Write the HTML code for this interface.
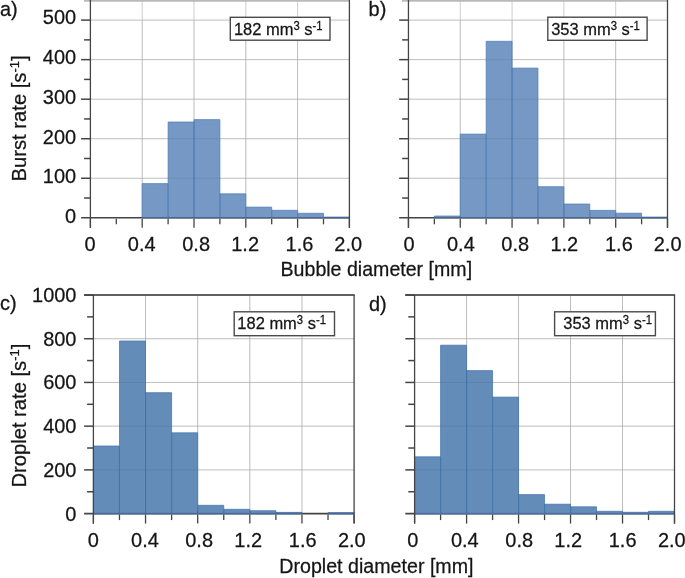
<!DOCTYPE html>
<html><head><meta charset="utf-8"><style>
html,body{margin:0;padding:0;background:#fff;}
svg{display:block;will-change:transform;font-family:"Liberation Sans",sans-serif;}
text{fill:#151515;stroke:#151515;stroke-width:0.25px;}
</style></head><body>
<svg width="685" height="578" viewBox="0 0 685 578">
<rect width="685" height="578" fill="#fff"/>
<line x1="142.20" y1="0.00" x2="142.20" y2="217.80" stroke="#cdcdcd" stroke-width="1" />
<line x1="194.00" y1="0.00" x2="194.00" y2="217.80" stroke="#cdcdcd" stroke-width="1" />
<line x1="245.80" y1="0.00" x2="245.80" y2="217.80" stroke="#cdcdcd" stroke-width="1" />
<line x1="297.60" y1="0.00" x2="297.60" y2="217.80" stroke="#cdcdcd" stroke-width="1" />
<line x1="90.40" y1="178.26" x2="349.40" y2="178.26" stroke="#cdcdcd" stroke-width="1" />
<line x1="90.40" y1="138.72" x2="349.40" y2="138.72" stroke="#cdcdcd" stroke-width="1" />
<line x1="90.40" y1="99.18" x2="349.40" y2="99.18" stroke="#cdcdcd" stroke-width="1" />
<line x1="90.40" y1="59.64" x2="349.40" y2="59.64" stroke="#cdcdcd" stroke-width="1" />
<line x1="90.40" y1="20.10" x2="349.40" y2="20.10" stroke="#cdcdcd" stroke-width="1" />
<line x1="81.10" y1="217.80" x2="349.40" y2="217.80" stroke="#444" stroke-width="1.6" />
<rect x="142.20" y="183.60" width="25.90" height="34.20" fill="#7698C4"/>
<rect x="168.10" y="122.00" width="25.90" height="95.80" fill="#7698C4"/>
<rect x="194.00" y="119.60" width="25.90" height="98.20" fill="#7698C4"/>
<rect x="219.90" y="193.80" width="25.90" height="24.00" fill="#7698C4"/>
<rect x="245.80" y="207.10" width="25.90" height="10.70" fill="#7698C4"/>
<rect x="271.70" y="210.30" width="25.90" height="7.50" fill="#7698C4"/>
<rect x="297.60" y="213.30" width="25.90" height="4.50" fill="#7698C4"/>
<rect x="323.50" y="217.00" width="25.90" height="0.80" fill="#7698C4"/>
<line x1="142.20" y1="20.10" x2="142.20" y2="217.80" stroke="#000" stroke-width="1" stroke-opacity="0.08"/>
<line x1="194.00" y1="20.10" x2="194.00" y2="217.80" stroke="#000" stroke-width="1" stroke-opacity="0.08"/>
<line x1="245.80" y1="20.10" x2="245.80" y2="217.80" stroke="#000" stroke-width="1" stroke-opacity="0.08"/>
<line x1="297.60" y1="20.10" x2="297.60" y2="217.80" stroke="#000" stroke-width="1" stroke-opacity="0.08"/>
<line x1="90.40" y1="178.26" x2="349.40" y2="178.26" stroke="#000" stroke-width="1" stroke-opacity="0.07"/>
<line x1="90.40" y1="138.72" x2="349.40" y2="138.72" stroke="#000" stroke-width="1" stroke-opacity="0.07"/>
<line x1="90.40" y1="99.18" x2="349.40" y2="99.18" stroke="#000" stroke-width="1" stroke-opacity="0.07"/>
<line x1="90.40" y1="59.64" x2="349.40" y2="59.64" stroke="#000" stroke-width="1" stroke-opacity="0.07"/>
<line x1="90.40" y1="20.10" x2="349.40" y2="20.10" stroke="#000" stroke-width="1" stroke-opacity="0.07"/>
<path d="M142.20,217.80 V183.60 H168.10 V217.80" fill="none" stroke="#4b7bb5" stroke-width="1" stroke-opacity="0.7"/>
<line x1="142.20" y1="217.80" x2="168.10" y2="217.80" stroke="rgba(40,65,115,0.45)" stroke-width="1.6" />
<path d="M168.10,217.80 V122.00 H194.00 V217.80" fill="none" stroke="#4b7bb5" stroke-width="1" stroke-opacity="0.7"/>
<line x1="168.10" y1="217.80" x2="194.00" y2="217.80" stroke="rgba(40,65,115,0.45)" stroke-width="1.6" />
<path d="M194.00,217.80 V119.60 H219.90 V217.80" fill="none" stroke="#4b7bb5" stroke-width="1" stroke-opacity="0.7"/>
<line x1="194.00" y1="217.80" x2="219.90" y2="217.80" stroke="rgba(40,65,115,0.45)" stroke-width="1.6" />
<path d="M219.90,217.80 V193.80 H245.80 V217.80" fill="none" stroke="#4b7bb5" stroke-width="1" stroke-opacity="0.7"/>
<line x1="219.90" y1="217.80" x2="245.80" y2="217.80" stroke="rgba(40,65,115,0.45)" stroke-width="1.6" />
<path d="M245.80,217.80 V207.10 H271.70 V217.80" fill="none" stroke="#4b7bb5" stroke-width="1" stroke-opacity="0.7"/>
<line x1="245.80" y1="217.80" x2="271.70" y2="217.80" stroke="rgba(40,65,115,0.45)" stroke-width="1.6" />
<path d="M271.70,217.80 V210.30 H297.60 V217.80" fill="none" stroke="#4b7bb5" stroke-width="1" stroke-opacity="0.7"/>
<line x1="271.70" y1="217.80" x2="297.60" y2="217.80" stroke="rgba(40,65,115,0.45)" stroke-width="1.6" />
<path d="M297.60,217.80 V213.30 H323.50 V217.80" fill="none" stroke="#4b7bb5" stroke-width="1" stroke-opacity="0.7"/>
<line x1="297.60" y1="217.80" x2="323.50" y2="217.80" stroke="rgba(40,65,115,0.45)" stroke-width="1.6" />
<path d="M323.50,217.80 V217.00 H349.40 V217.80" fill="none" stroke="#4b7bb5" stroke-width="1" stroke-opacity="0.7"/>
<line x1="323.50" y1="217.80" x2="349.40" y2="217.80" stroke="rgba(40,65,115,0.45)" stroke-width="1.6" />
<rect x="83.90" y="0" width="266.00" height="1.7" fill="#b8b8b8"/>
<line x1="90.40" y1="0.00" x2="90.40" y2="227.80" stroke="#444" stroke-width="1.3" />
<line x1="349.40" y1="0.00" x2="349.40" y2="227.80" stroke="#444" stroke-width="1.3" />
<line x1="81.10" y1="178.26" x2="90.40" y2="178.26" stroke="#444" stroke-width="1.5" />
<line x1="81.10" y1="138.72" x2="90.40" y2="138.72" stroke="#444" stroke-width="1.5" />
<line x1="81.10" y1="99.18" x2="90.40" y2="99.18" stroke="#444" stroke-width="1.5" />
<line x1="81.10" y1="59.64" x2="90.40" y2="59.64" stroke="#444" stroke-width="1.5" />
<line x1="81.10" y1="20.10" x2="90.40" y2="20.10" stroke="#444" stroke-width="1.5" />
<line x1="84.10" y1="198.03" x2="90.40" y2="198.03" stroke="#444" stroke-width="1.5" />
<line x1="84.10" y1="158.49" x2="90.40" y2="158.49" stroke="#444" stroke-width="1.5" />
<line x1="84.10" y1="118.95" x2="90.40" y2="118.95" stroke="#444" stroke-width="1.5" />
<line x1="84.10" y1="79.41" x2="90.40" y2="79.41" stroke="#444" stroke-width="1.5" />
<line x1="84.10" y1="39.87" x2="90.40" y2="39.87" stroke="#444" stroke-width="1.5" />
<line x1="90.40" y1="218.70" x2="90.40" y2="227.80" stroke="#444" stroke-width="1.3" />
<line x1="116.30" y1="218.70" x2="116.30" y2="224.30" stroke="#444" stroke-width="1.3" />
<line x1="142.20" y1="218.70" x2="142.20" y2="227.80" stroke="#444" stroke-width="1.3" />
<line x1="168.10" y1="218.70" x2="168.10" y2="224.30" stroke="#444" stroke-width="1.3" />
<line x1="194.00" y1="218.70" x2="194.00" y2="227.80" stroke="#444" stroke-width="1.3" />
<line x1="219.90" y1="218.70" x2="219.90" y2="224.30" stroke="#444" stroke-width="1.3" />
<line x1="245.80" y1="218.70" x2="245.80" y2="227.80" stroke="#444" stroke-width="1.3" />
<line x1="271.70" y1="218.70" x2="271.70" y2="224.30" stroke="#444" stroke-width="1.3" />
<line x1="297.60" y1="218.70" x2="297.60" y2="227.80" stroke="#444" stroke-width="1.3" />
<line x1="323.50" y1="218.70" x2="323.50" y2="224.30" stroke="#444" stroke-width="1.3" />
<line x1="349.40" y1="218.70" x2="349.40" y2="227.80" stroke="#444" stroke-width="1.3" />
<line x1="460.26" y1="0.00" x2="460.26" y2="217.80" stroke="#cdcdcd" stroke-width="1" />
<line x1="512.07" y1="0.00" x2="512.07" y2="217.80" stroke="#cdcdcd" stroke-width="1" />
<line x1="563.88" y1="0.00" x2="563.88" y2="217.80" stroke="#cdcdcd" stroke-width="1" />
<line x1="615.69" y1="0.00" x2="615.69" y2="217.80" stroke="#cdcdcd" stroke-width="1" />
<line x1="408.45" y1="178.26" x2="667.50" y2="178.26" stroke="#cdcdcd" stroke-width="1" />
<line x1="408.45" y1="138.72" x2="667.50" y2="138.72" stroke="#cdcdcd" stroke-width="1" />
<line x1="408.45" y1="99.18" x2="667.50" y2="99.18" stroke="#cdcdcd" stroke-width="1" />
<line x1="408.45" y1="59.64" x2="667.50" y2="59.64" stroke="#cdcdcd" stroke-width="1" />
<line x1="408.45" y1="20.10" x2="667.50" y2="20.10" stroke="#cdcdcd" stroke-width="1" />
<line x1="399.15" y1="217.80" x2="667.50" y2="217.80" stroke="#444" stroke-width="1.6" />
<rect x="434.36" y="216.00" width="25.91" height="1.80" fill="#7698C4"/>
<rect x="460.26" y="134.10" width="25.91" height="83.70" fill="#7698C4"/>
<rect x="486.17" y="41.30" width="25.91" height="176.50" fill="#7698C4"/>
<rect x="512.07" y="68.10" width="25.91" height="149.70" fill="#7698C4"/>
<rect x="537.98" y="186.70" width="25.91" height="31.10" fill="#7698C4"/>
<rect x="563.88" y="204.00" width="25.91" height="13.80" fill="#7698C4"/>
<rect x="589.79" y="210.40" width="25.91" height="7.40" fill="#7698C4"/>
<rect x="615.69" y="213.20" width="25.91" height="4.60" fill="#7698C4"/>
<rect x="641.60" y="217.00" width="25.91" height="0.80" fill="#7698C4"/>
<line x1="460.26" y1="20.10" x2="460.26" y2="217.80" stroke="#000" stroke-width="1" stroke-opacity="0.08"/>
<line x1="512.07" y1="20.10" x2="512.07" y2="217.80" stroke="#000" stroke-width="1" stroke-opacity="0.08"/>
<line x1="563.88" y1="20.10" x2="563.88" y2="217.80" stroke="#000" stroke-width="1" stroke-opacity="0.08"/>
<line x1="615.69" y1="20.10" x2="615.69" y2="217.80" stroke="#000" stroke-width="1" stroke-opacity="0.08"/>
<line x1="408.45" y1="178.26" x2="667.50" y2="178.26" stroke="#000" stroke-width="1" stroke-opacity="0.07"/>
<line x1="408.45" y1="138.72" x2="667.50" y2="138.72" stroke="#000" stroke-width="1" stroke-opacity="0.07"/>
<line x1="408.45" y1="99.18" x2="667.50" y2="99.18" stroke="#000" stroke-width="1" stroke-opacity="0.07"/>
<line x1="408.45" y1="59.64" x2="667.50" y2="59.64" stroke="#000" stroke-width="1" stroke-opacity="0.07"/>
<line x1="408.45" y1="20.10" x2="667.50" y2="20.10" stroke="#000" stroke-width="1" stroke-opacity="0.07"/>
<path d="M434.36,217.80 V216.00 H460.26 V217.80" fill="none" stroke="#4b7bb5" stroke-width="1" stroke-opacity="0.7"/>
<line x1="434.36" y1="217.80" x2="460.26" y2="217.80" stroke="rgba(40,65,115,0.45)" stroke-width="1.6" />
<path d="M460.26,217.80 V134.10 H486.16 V217.80" fill="none" stroke="#4b7bb5" stroke-width="1" stroke-opacity="0.7"/>
<line x1="460.26" y1="217.80" x2="486.16" y2="217.80" stroke="rgba(40,65,115,0.45)" stroke-width="1.6" />
<path d="M486.17,217.80 V41.30 H512.07 V217.80" fill="none" stroke="#4b7bb5" stroke-width="1" stroke-opacity="0.7"/>
<line x1="486.17" y1="217.80" x2="512.07" y2="217.80" stroke="rgba(40,65,115,0.45)" stroke-width="1.6" />
<path d="M512.07,217.80 V68.10 H537.97 V217.80" fill="none" stroke="#4b7bb5" stroke-width="1" stroke-opacity="0.7"/>
<line x1="512.07" y1="217.80" x2="537.97" y2="217.80" stroke="rgba(40,65,115,0.45)" stroke-width="1.6" />
<path d="M537.98,217.80 V186.70 H563.88 V217.80" fill="none" stroke="#4b7bb5" stroke-width="1" stroke-opacity="0.7"/>
<line x1="537.98" y1="217.80" x2="563.88" y2="217.80" stroke="rgba(40,65,115,0.45)" stroke-width="1.6" />
<path d="M563.88,217.80 V204.00 H589.78 V217.80" fill="none" stroke="#4b7bb5" stroke-width="1" stroke-opacity="0.7"/>
<line x1="563.88" y1="217.80" x2="589.78" y2="217.80" stroke="rgba(40,65,115,0.45)" stroke-width="1.6" />
<path d="M589.79,217.80 V210.40 H615.69 V217.80" fill="none" stroke="#4b7bb5" stroke-width="1" stroke-opacity="0.7"/>
<line x1="589.79" y1="217.80" x2="615.69" y2="217.80" stroke="rgba(40,65,115,0.45)" stroke-width="1.6" />
<path d="M615.69,217.80 V213.20 H641.60 V217.80" fill="none" stroke="#4b7bb5" stroke-width="1" stroke-opacity="0.7"/>
<line x1="615.69" y1="217.80" x2="641.60" y2="217.80" stroke="rgba(40,65,115,0.45)" stroke-width="1.6" />
<path d="M641.60,217.80 V217.00 H667.50 V217.80" fill="none" stroke="#4b7bb5" stroke-width="1" stroke-opacity="0.7"/>
<line x1="641.60" y1="217.80" x2="667.50" y2="217.80" stroke="rgba(40,65,115,0.45)" stroke-width="1.6" />
<rect x="401.95" y="0" width="266.05" height="1.7" fill="#b8b8b8"/>
<line x1="408.45" y1="0.00" x2="408.45" y2="227.80" stroke="#444" stroke-width="1.3" />
<line x1="667.50" y1="0.00" x2="667.50" y2="227.80" stroke="#444" stroke-width="1.3" />
<line x1="399.15" y1="178.26" x2="408.45" y2="178.26" stroke="#444" stroke-width="1.5" />
<line x1="399.15" y1="138.72" x2="408.45" y2="138.72" stroke="#444" stroke-width="1.5" />
<line x1="399.15" y1="99.18" x2="408.45" y2="99.18" stroke="#444" stroke-width="1.5" />
<line x1="399.15" y1="59.64" x2="408.45" y2="59.64" stroke="#444" stroke-width="1.5" />
<line x1="399.15" y1="20.10" x2="408.45" y2="20.10" stroke="#444" stroke-width="1.5" />
<line x1="402.15" y1="198.03" x2="408.45" y2="198.03" stroke="#444" stroke-width="1.5" />
<line x1="402.15" y1="158.49" x2="408.45" y2="158.49" stroke="#444" stroke-width="1.5" />
<line x1="402.15" y1="118.95" x2="408.45" y2="118.95" stroke="#444" stroke-width="1.5" />
<line x1="402.15" y1="79.41" x2="408.45" y2="79.41" stroke="#444" stroke-width="1.5" />
<line x1="402.15" y1="39.87" x2="408.45" y2="39.87" stroke="#444" stroke-width="1.5" />
<line x1="408.45" y1="218.70" x2="408.45" y2="227.80" stroke="#444" stroke-width="1.3" />
<line x1="434.36" y1="218.70" x2="434.36" y2="224.30" stroke="#444" stroke-width="1.3" />
<line x1="460.26" y1="218.70" x2="460.26" y2="227.80" stroke="#444" stroke-width="1.3" />
<line x1="486.17" y1="218.70" x2="486.17" y2="224.30" stroke="#444" stroke-width="1.3" />
<line x1="512.07" y1="218.70" x2="512.07" y2="227.80" stroke="#444" stroke-width="1.3" />
<line x1="537.98" y1="218.70" x2="537.98" y2="224.30" stroke="#444" stroke-width="1.3" />
<line x1="563.88" y1="218.70" x2="563.88" y2="227.80" stroke="#444" stroke-width="1.3" />
<line x1="589.79" y1="218.70" x2="589.79" y2="224.30" stroke="#444" stroke-width="1.3" />
<line x1="615.69" y1="218.70" x2="615.69" y2="227.80" stroke="#444" stroke-width="1.3" />
<line x1="641.60" y1="218.70" x2="641.60" y2="224.30" stroke="#444" stroke-width="1.3" />
<line x1="667.50" y1="218.70" x2="667.50" y2="227.80" stroke="#444" stroke-width="1.3" />
<line x1="145.54" y1="295.00" x2="145.54" y2="513.60" stroke="#cdcdcd" stroke-width="1" />
<line x1="197.68" y1="295.00" x2="197.68" y2="513.60" stroke="#cdcdcd" stroke-width="1" />
<line x1="249.82" y1="295.00" x2="249.82" y2="513.60" stroke="#cdcdcd" stroke-width="1" />
<line x1="301.96" y1="295.00" x2="301.96" y2="513.60" stroke="#cdcdcd" stroke-width="1" />
<line x1="93.40" y1="469.88" x2="354.10" y2="469.88" stroke="#cdcdcd" stroke-width="1" />
<line x1="93.40" y1="426.16" x2="354.10" y2="426.16" stroke="#cdcdcd" stroke-width="1" />
<line x1="93.40" y1="382.44" x2="354.10" y2="382.44" stroke="#cdcdcd" stroke-width="1" />
<line x1="93.40" y1="338.72" x2="354.10" y2="338.72" stroke="#cdcdcd" stroke-width="1" />
<line x1="93.40" y1="295.00" x2="354.10" y2="295.00" stroke="#cdcdcd" stroke-width="1" />
<line x1="84.10" y1="513.60" x2="354.10" y2="513.60" stroke="#444" stroke-width="1.6" />
<rect x="93.40" y="446.00" width="26.07" height="67.60" fill="#638CB9"/>
<rect x="119.47" y="341.00" width="26.07" height="172.60" fill="#638CB9"/>
<rect x="145.54" y="392.70" width="26.07" height="120.90" fill="#638CB9"/>
<rect x="171.61" y="432.80" width="26.07" height="80.80" fill="#638CB9"/>
<rect x="197.68" y="505.30" width="26.07" height="8.30" fill="#638CB9"/>
<rect x="223.75" y="509.30" width="26.07" height="4.30" fill="#638CB9"/>
<rect x="249.82" y="510.70" width="26.07" height="2.90" fill="#638CB9"/>
<rect x="275.89" y="512.40" width="26.07" height="1.20" fill="#638CB9"/>
<rect x="328.03" y="512.60" width="26.07" height="1.00" fill="#638CB9"/>
<line x1="145.54" y1="295.00" x2="145.54" y2="513.60" stroke="#000" stroke-width="1" stroke-opacity="0.08"/>
<line x1="197.68" y1="295.00" x2="197.68" y2="513.60" stroke="#000" stroke-width="1" stroke-opacity="0.08"/>
<line x1="249.82" y1="295.00" x2="249.82" y2="513.60" stroke="#000" stroke-width="1" stroke-opacity="0.08"/>
<line x1="301.96" y1="295.00" x2="301.96" y2="513.60" stroke="#000" stroke-width="1" stroke-opacity="0.08"/>
<line x1="93.40" y1="469.88" x2="354.10" y2="469.88" stroke="#000" stroke-width="1" stroke-opacity="0.07"/>
<line x1="93.40" y1="426.16" x2="354.10" y2="426.16" stroke="#000" stroke-width="1" stroke-opacity="0.07"/>
<line x1="93.40" y1="382.44" x2="354.10" y2="382.44" stroke="#000" stroke-width="1" stroke-opacity="0.07"/>
<line x1="93.40" y1="338.72" x2="354.10" y2="338.72" stroke="#000" stroke-width="1" stroke-opacity="0.07"/>
<line x1="93.40" y1="295.00" x2="354.10" y2="295.00" stroke="#000" stroke-width="1" stroke-opacity="0.07"/>
<path d="M93.40,513.60 V446.00 H119.47 V513.60" fill="none" stroke="#3f70aa" stroke-width="1" stroke-opacity="0.7"/>
<line x1="93.40" y1="513.60" x2="119.47" y2="513.60" stroke="rgba(60,100,160,0.6)" stroke-width="1.6" />
<path d="M119.47,513.60 V341.00 H145.54 V513.60" fill="none" stroke="#3f70aa" stroke-width="1" stroke-opacity="0.7"/>
<line x1="119.47" y1="513.60" x2="145.54" y2="513.60" stroke="rgba(60,100,160,0.6)" stroke-width="1.6" />
<path d="M145.54,513.60 V392.70 H171.61 V513.60" fill="none" stroke="#3f70aa" stroke-width="1" stroke-opacity="0.7"/>
<line x1="145.54" y1="513.60" x2="171.61" y2="513.60" stroke="rgba(60,100,160,0.6)" stroke-width="1.6" />
<path d="M171.61,513.60 V432.80 H197.68 V513.60" fill="none" stroke="#3f70aa" stroke-width="1" stroke-opacity="0.7"/>
<line x1="171.61" y1="513.60" x2="197.68" y2="513.60" stroke="rgba(60,100,160,0.6)" stroke-width="1.6" />
<path d="M197.68,513.60 V505.30 H223.75 V513.60" fill="none" stroke="#3f70aa" stroke-width="1" stroke-opacity="0.7"/>
<line x1="197.68" y1="513.60" x2="223.75" y2="513.60" stroke="rgba(60,100,160,0.6)" stroke-width="1.6" />
<path d="M223.75,513.60 V509.30 H249.82 V513.60" fill="none" stroke="#3f70aa" stroke-width="1" stroke-opacity="0.7"/>
<line x1="223.75" y1="513.60" x2="249.82" y2="513.60" stroke="rgba(60,100,160,0.6)" stroke-width="1.6" />
<path d="M249.82,513.60 V510.70 H275.89 V513.60" fill="none" stroke="#3f70aa" stroke-width="1" stroke-opacity="0.7"/>
<line x1="249.82" y1="513.60" x2="275.89" y2="513.60" stroke="rgba(60,100,160,0.6)" stroke-width="1.6" />
<path d="M275.89,513.60 V512.40 H301.96 V513.60" fill="none" stroke="#3f70aa" stroke-width="1" stroke-opacity="0.7"/>
<line x1="275.89" y1="513.60" x2="301.96" y2="513.60" stroke="rgba(60,100,160,0.6)" stroke-width="1.6" />
<path d="M328.03,513.60 V512.60 H354.10 V513.60" fill="none" stroke="#3f70aa" stroke-width="1" stroke-opacity="0.7"/>
<line x1="328.03" y1="513.60" x2="354.10" y2="513.60" stroke="rgba(60,100,160,0.6)" stroke-width="1.6" />
<line x1="84.10" y1="295.00" x2="354.70" y2="295.00" stroke="#606060" stroke-width="1.8" />
<line x1="93.40" y1="295.00" x2="93.40" y2="523.60" stroke="#444" stroke-width="1.3" />
<line x1="354.10" y1="295.00" x2="354.10" y2="523.60" stroke="#444" stroke-width="1.3" />
<line x1="84.10" y1="469.88" x2="93.40" y2="469.88" stroke="#444" stroke-width="1.5" />
<line x1="84.10" y1="426.16" x2="93.40" y2="426.16" stroke="#444" stroke-width="1.5" />
<line x1="84.10" y1="382.44" x2="93.40" y2="382.44" stroke="#444" stroke-width="1.5" />
<line x1="84.10" y1="338.72" x2="93.40" y2="338.72" stroke="#444" stroke-width="1.5" />
<line x1="84.10" y1="295.00" x2="93.40" y2="295.00" stroke="#444" stroke-width="1.5" />
<line x1="87.10" y1="491.74" x2="93.40" y2="491.74" stroke="#444" stroke-width="1.5" />
<line x1="87.10" y1="448.02" x2="93.40" y2="448.02" stroke="#444" stroke-width="1.5" />
<line x1="87.10" y1="404.30" x2="93.40" y2="404.30" stroke="#444" stroke-width="1.5" />
<line x1="87.10" y1="360.58" x2="93.40" y2="360.58" stroke="#444" stroke-width="1.5" />
<line x1="87.10" y1="316.86" x2="93.40" y2="316.86" stroke="#444" stroke-width="1.5" />
<line x1="93.40" y1="514.50" x2="93.40" y2="523.60" stroke="#444" stroke-width="1.3" />
<line x1="119.47" y1="514.50" x2="119.47" y2="520.10" stroke="#444" stroke-width="1.3" />
<line x1="145.54" y1="514.50" x2="145.54" y2="523.60" stroke="#444" stroke-width="1.3" />
<line x1="171.61" y1="514.50" x2="171.61" y2="520.10" stroke="#444" stroke-width="1.3" />
<line x1="197.68" y1="514.50" x2="197.68" y2="523.60" stroke="#444" stroke-width="1.3" />
<line x1="223.75" y1="514.50" x2="223.75" y2="520.10" stroke="#444" stroke-width="1.3" />
<line x1="249.82" y1="514.50" x2="249.82" y2="523.60" stroke="#444" stroke-width="1.3" />
<line x1="275.89" y1="514.50" x2="275.89" y2="520.10" stroke="#444" stroke-width="1.3" />
<line x1="301.96" y1="514.50" x2="301.96" y2="523.60" stroke="#444" stroke-width="1.3" />
<line x1="328.03" y1="514.50" x2="328.03" y2="520.10" stroke="#444" stroke-width="1.3" />
<line x1="354.10" y1="514.50" x2="354.10" y2="523.60" stroke="#444" stroke-width="1.3" />
<line x1="466.58" y1="295.00" x2="466.58" y2="513.60" stroke="#cdcdcd" stroke-width="1" />
<line x1="518.56" y1="295.00" x2="518.56" y2="513.60" stroke="#cdcdcd" stroke-width="1" />
<line x1="570.54" y1="295.00" x2="570.54" y2="513.60" stroke="#cdcdcd" stroke-width="1" />
<line x1="622.52" y1="295.00" x2="622.52" y2="513.60" stroke="#cdcdcd" stroke-width="1" />
<line x1="414.60" y1="469.88" x2="674.50" y2="469.88" stroke="#cdcdcd" stroke-width="1" />
<line x1="414.60" y1="426.16" x2="674.50" y2="426.16" stroke="#cdcdcd" stroke-width="1" />
<line x1="414.60" y1="382.44" x2="674.50" y2="382.44" stroke="#cdcdcd" stroke-width="1" />
<line x1="414.60" y1="338.72" x2="674.50" y2="338.72" stroke="#cdcdcd" stroke-width="1" />
<line x1="414.60" y1="295.00" x2="674.50" y2="295.00" stroke="#cdcdcd" stroke-width="1" />
<line x1="405.30" y1="513.60" x2="674.50" y2="513.60" stroke="#444" stroke-width="1.6" />
<rect x="414.60" y="456.80" width="25.99" height="56.80" fill="#638CB9"/>
<rect x="440.59" y="345.20" width="25.99" height="168.40" fill="#638CB9"/>
<rect x="466.58" y="370.60" width="25.99" height="143.00" fill="#638CB9"/>
<rect x="492.57" y="397.10" width="25.99" height="116.50" fill="#638CB9"/>
<rect x="518.56" y="494.60" width="25.99" height="19.00" fill="#638CB9"/>
<rect x="544.55" y="504.20" width="25.99" height="9.40" fill="#638CB9"/>
<rect x="570.54" y="506.80" width="25.99" height="6.80" fill="#638CB9"/>
<rect x="596.53" y="511.30" width="25.99" height="2.30" fill="#638CB9"/>
<rect x="622.52" y="512.30" width="25.99" height="1.30" fill="#638CB9"/>
<rect x="648.51" y="511.30" width="25.99" height="2.30" fill="#638CB9"/>
<line x1="466.58" y1="295.00" x2="466.58" y2="513.60" stroke="#000" stroke-width="1" stroke-opacity="0.08"/>
<line x1="518.56" y1="295.00" x2="518.56" y2="513.60" stroke="#000" stroke-width="1" stroke-opacity="0.08"/>
<line x1="570.54" y1="295.00" x2="570.54" y2="513.60" stroke="#000" stroke-width="1" stroke-opacity="0.08"/>
<line x1="622.52" y1="295.00" x2="622.52" y2="513.60" stroke="#000" stroke-width="1" stroke-opacity="0.08"/>
<line x1="414.60" y1="469.88" x2="674.50" y2="469.88" stroke="#000" stroke-width="1" stroke-opacity="0.07"/>
<line x1="414.60" y1="426.16" x2="674.50" y2="426.16" stroke="#000" stroke-width="1" stroke-opacity="0.07"/>
<line x1="414.60" y1="382.44" x2="674.50" y2="382.44" stroke="#000" stroke-width="1" stroke-opacity="0.07"/>
<line x1="414.60" y1="338.72" x2="674.50" y2="338.72" stroke="#000" stroke-width="1" stroke-opacity="0.07"/>
<line x1="414.60" y1="295.00" x2="674.50" y2="295.00" stroke="#000" stroke-width="1" stroke-opacity="0.07"/>
<path d="M414.60,513.60 V456.80 H440.59 V513.60" fill="none" stroke="#3f70aa" stroke-width="1" stroke-opacity="0.7"/>
<line x1="414.60" y1="513.60" x2="440.59" y2="513.60" stroke="rgba(70,110,170,0.8)" stroke-width="1.6" />
<path d="M440.59,513.60 V345.20 H466.58 V513.60" fill="none" stroke="#3f70aa" stroke-width="1" stroke-opacity="0.7"/>
<line x1="440.59" y1="513.60" x2="466.58" y2="513.60" stroke="rgba(70,110,170,0.8)" stroke-width="1.6" />
<path d="M466.58,513.60 V370.60 H492.57 V513.60" fill="none" stroke="#3f70aa" stroke-width="1" stroke-opacity="0.7"/>
<line x1="466.58" y1="513.60" x2="492.57" y2="513.60" stroke="rgba(70,110,170,0.8)" stroke-width="1.6" />
<path d="M492.57,513.60 V397.10 H518.56 V513.60" fill="none" stroke="#3f70aa" stroke-width="1" stroke-opacity="0.7"/>
<line x1="492.57" y1="513.60" x2="518.56" y2="513.60" stroke="rgba(70,110,170,0.8)" stroke-width="1.6" />
<path d="M518.56,513.60 V494.60 H544.55 V513.60" fill="none" stroke="#3f70aa" stroke-width="1" stroke-opacity="0.7"/>
<line x1="518.56" y1="513.60" x2="544.55" y2="513.60" stroke="rgba(70,110,170,0.8)" stroke-width="1.6" />
<path d="M544.55,513.60 V504.20 H570.54 V513.60" fill="none" stroke="#3f70aa" stroke-width="1" stroke-opacity="0.7"/>
<line x1="544.55" y1="513.60" x2="570.54" y2="513.60" stroke="rgba(70,110,170,0.8)" stroke-width="1.6" />
<path d="M570.54,513.60 V506.80 H596.53 V513.60" fill="none" stroke="#3f70aa" stroke-width="1" stroke-opacity="0.7"/>
<line x1="570.54" y1="513.60" x2="596.53" y2="513.60" stroke="rgba(70,110,170,0.8)" stroke-width="1.6" />
<path d="M596.53,513.60 V511.30 H622.52 V513.60" fill="none" stroke="#3f70aa" stroke-width="1" stroke-opacity="0.7"/>
<line x1="596.53" y1="513.60" x2="622.52" y2="513.60" stroke="rgba(70,110,170,0.8)" stroke-width="1.6" />
<path d="M622.52,513.60 V512.30 H648.51 V513.60" fill="none" stroke="#3f70aa" stroke-width="1" stroke-opacity="0.7"/>
<line x1="622.52" y1="513.60" x2="648.51" y2="513.60" stroke="rgba(70,110,170,0.8)" stroke-width="1.6" />
<path d="M648.51,513.60 V511.30 H674.50 V513.60" fill="none" stroke="#3f70aa" stroke-width="1" stroke-opacity="0.7"/>
<line x1="648.51" y1="513.60" x2="674.50" y2="513.60" stroke="rgba(70,110,170,0.8)" stroke-width="1.6" />
<line x1="405.30" y1="295.00" x2="675.10" y2="295.00" stroke="#606060" stroke-width="1.8" />
<line x1="414.60" y1="295.00" x2="414.60" y2="523.60" stroke="#444" stroke-width="1.3" />
<line x1="674.50" y1="295.00" x2="674.50" y2="523.60" stroke="#444" stroke-width="1.3" />
<line x1="405.30" y1="469.88" x2="414.60" y2="469.88" stroke="#444" stroke-width="1.5" />
<line x1="405.30" y1="426.16" x2="414.60" y2="426.16" stroke="#444" stroke-width="1.5" />
<line x1="405.30" y1="382.44" x2="414.60" y2="382.44" stroke="#444" stroke-width="1.5" />
<line x1="405.30" y1="338.72" x2="414.60" y2="338.72" stroke="#444" stroke-width="1.5" />
<line x1="405.30" y1="295.00" x2="414.60" y2="295.00" stroke="#444" stroke-width="1.5" />
<line x1="408.30" y1="491.74" x2="414.60" y2="491.74" stroke="#444" stroke-width="1.5" />
<line x1="408.30" y1="448.02" x2="414.60" y2="448.02" stroke="#444" stroke-width="1.5" />
<line x1="408.30" y1="404.30" x2="414.60" y2="404.30" stroke="#444" stroke-width="1.5" />
<line x1="408.30" y1="360.58" x2="414.60" y2="360.58" stroke="#444" stroke-width="1.5" />
<line x1="408.30" y1="316.86" x2="414.60" y2="316.86" stroke="#444" stroke-width="1.5" />
<line x1="414.60" y1="514.50" x2="414.60" y2="523.60" stroke="#444" stroke-width="1.3" />
<line x1="440.59" y1="514.50" x2="440.59" y2="520.10" stroke="#444" stroke-width="1.3" />
<line x1="466.58" y1="514.50" x2="466.58" y2="523.60" stroke="#444" stroke-width="1.3" />
<line x1="492.57" y1="514.50" x2="492.57" y2="520.10" stroke="#444" stroke-width="1.3" />
<line x1="518.56" y1="514.50" x2="518.56" y2="523.60" stroke="#444" stroke-width="1.3" />
<line x1="544.55" y1="514.50" x2="544.55" y2="520.10" stroke="#444" stroke-width="1.3" />
<line x1="570.54" y1="514.50" x2="570.54" y2="523.60" stroke="#444" stroke-width="1.3" />
<line x1="596.53" y1="514.50" x2="596.53" y2="520.10" stroke="#444" stroke-width="1.3" />
<line x1="622.52" y1="514.50" x2="622.52" y2="523.60" stroke="#444" stroke-width="1.3" />
<line x1="648.51" y1="514.50" x2="648.51" y2="520.10" stroke="#444" stroke-width="1.3" />
<line x1="674.50" y1="514.50" x2="674.50" y2="523.60" stroke="#444" stroke-width="1.3" />
<text transform="translate(76.20,23.80) scale(1,1.055)" font-size="20" text-anchor="end" >500</text>
<text transform="translate(76.20,64.10) scale(1,1.055)" font-size="20" text-anchor="end" >400</text>
<text transform="translate(76.20,103.80) scale(1,1.055)" font-size="20" text-anchor="end" >300</text>
<text transform="translate(76.20,143.60) scale(1,1.055)" font-size="20" text-anchor="end" >200</text>
<text transform="translate(76.20,183.00) scale(1,1.055)" font-size="20" text-anchor="end" >100</text>
<text transform="translate(76.20,223.00) scale(1,1.055)" font-size="20" text-anchor="end" >0</text>
<text transform="translate(76.50,302.40) scale(1,1.055)" font-size="20" text-anchor="end" >1000</text>
<text transform="translate(76.50,346.10) scale(1,1.055)" font-size="20" text-anchor="end" >800</text>
<text transform="translate(76.50,389.30) scale(1,1.055)" font-size="20" text-anchor="end" >600</text>
<text transform="translate(76.50,433.00) scale(1,1.055)" font-size="20" text-anchor="end" >400</text>
<text transform="translate(76.50,476.70) scale(1,1.055)" font-size="20" text-anchor="end" >200</text>
<text transform="translate(76.50,520.60) scale(1,1.055)" font-size="20" text-anchor="end" >0</text>
<text transform="translate(90.05,250.50) scale(1,1.055)" font-size="20" text-anchor="middle" >0</text>
<text transform="translate(141.70,250.50) scale(1,1.055)" font-size="20" text-anchor="middle" >0.4</text>
<text transform="translate(196.10,250.50) scale(1,1.055)" font-size="20" text-anchor="middle" >0.8</text>
<text transform="translate(245.10,250.50) scale(1,1.055)" font-size="20" text-anchor="middle" >1.2</text>
<text transform="translate(299.50,250.50) scale(1,1.055)" font-size="20" text-anchor="middle" >1.6</text>
<text transform="translate(348.20,250.50) scale(1,1.055)" font-size="20" text-anchor="middle" >2.0</text>
<text transform="translate(409.00,250.50) scale(1,1.055)" font-size="20" text-anchor="middle" >0</text>
<text transform="translate(460.85,250.50) scale(1,1.055)" font-size="20" text-anchor="middle" >0.4</text>
<text transform="translate(515.20,250.50) scale(1,1.055)" font-size="20" text-anchor="middle" >0.8</text>
<text transform="translate(564.30,250.50) scale(1,1.055)" font-size="20" text-anchor="middle" >1.2</text>
<text transform="translate(618.90,250.50) scale(1,1.055)" font-size="20" text-anchor="middle" >1.6</text>
<text transform="translate(667.60,250.50) scale(1,1.055)" font-size="20" text-anchor="middle" >2.0</text>
<text transform="translate(93.35,546.60) scale(1,1.055)" font-size="20" text-anchor="middle" >0</text>
<text transform="translate(145.00,546.60) scale(1,1.055)" font-size="20" text-anchor="middle" >0.4</text>
<text transform="translate(199.10,546.60) scale(1,1.055)" font-size="20" text-anchor="middle" >0.8</text>
<text transform="translate(248.20,546.60) scale(1,1.055)" font-size="20" text-anchor="middle" >1.2</text>
<text transform="translate(302.70,546.60) scale(1,1.055)" font-size="20" text-anchor="middle" >1.6</text>
<text transform="translate(351.80,546.60) scale(1,1.055)" font-size="20" text-anchor="middle" >2.0</text>
<text transform="translate(412.90,546.60) scale(1,1.055)" font-size="20" text-anchor="middle" >0</text>
<text transform="translate(464.80,546.60) scale(1,1.055)" font-size="20" text-anchor="middle" >0.4</text>
<text transform="translate(519.20,546.60) scale(1,1.055)" font-size="20" text-anchor="middle" >0.8</text>
<text transform="translate(568.20,546.60) scale(1,1.055)" font-size="20" text-anchor="middle" >1.2</text>
<text transform="translate(622.60,546.60) scale(1,1.055)" font-size="20" text-anchor="middle" >1.6</text>
<text transform="translate(671.80,546.60) scale(1,1.055)" font-size="20" text-anchor="middle" >2.0</text>
<text transform="translate(0.00,16.30) scale(1,1.055)" font-size="20" text-anchor="start" >a)</text>
<text transform="translate(368.60,16.30) scale(1,1.055)" font-size="20" text-anchor="start" >b)</text>
<text transform="translate(0.00,310.20) scale(1,1.055)" font-size="20" text-anchor="start" >c)</text>
<text transform="translate(368.90,310.60) scale(1,1.055)" font-size="20" text-anchor="start" >d)</text>
<text transform="translate(376.30,276.30) scale(1,1.055)" font-size="19.6" text-anchor="middle" >Bubble diameter [mm]</text>
<text transform="translate(376.40,573.00) scale(1,1.055)" font-size="19.65" text-anchor="middle" >Droplet diameter [mm]</text>
<text transform="translate(25.9,118.4) rotate(-90)" font-size="20.2" text-anchor="middle">Burst rate [s<tspan font-size="13" dy="-6.5">-1</tspan><tspan dy="6.5">]</tspan></text>
<text transform="translate(25.9,415.6) rotate(-90)" font-size="20.2" text-anchor="middle">Droplet rate [s<tspan font-size="13" dy="-6.5">-1</tspan><tspan dy="6.5">]</tspan></text>
<rect x="230.30" y="17.30" width="99.70" height="22.90" fill="#fff" stroke="#4a4a4a" stroke-width="1.4"/>
<text transform="translate(278.25,34.60) scale(1,1.055)" font-size="16.5" text-anchor="middle">182 mm<tspan font-size="11.3" dy="-4.5">3</tspan><tspan dy="4.5"> s</tspan><tspan font-size="11.3" dy="-4.5">-1</tspan></text>
<rect x="547.80" y="17.20" width="99.30" height="23.10" fill="#fff" stroke="#4a4a4a" stroke-width="1.4"/>
<text transform="translate(595.55,34.50) scale(1,1.055)" font-size="16.5" text-anchor="middle">353 mm<tspan font-size="11.3" dy="-4.5">3</tspan><tspan dy="4.5"> s</tspan><tspan font-size="11.3" dy="-4.5">-1</tspan></text>
<rect x="234.20" y="311.80" width="100.30" height="23.90" fill="#fff" stroke="#4a4a4a" stroke-width="1.4"/>
<text transform="translate(281.65,329.10) scale(1,1.055)" font-size="16.5" text-anchor="middle">182 mm<tspan font-size="11.3" dy="-4.5">3</tspan><tspan dy="4.5"> s</tspan><tspan font-size="11.3" dy="-4.5">-1</tspan></text>
<rect x="554.60" y="311.80" width="100.80" height="23.90" fill="#fff" stroke="#4a4a4a" stroke-width="1.4"/>
<text transform="translate(607.60,329.10) scale(1,1.055)" font-size="16.5" text-anchor="middle">353 mm<tspan font-size="11.3" dy="-4.5">3</tspan><tspan dy="4.5"> s</tspan><tspan font-size="11.3" dy="-4.5">-1</tspan></text>
</svg></body></html>
